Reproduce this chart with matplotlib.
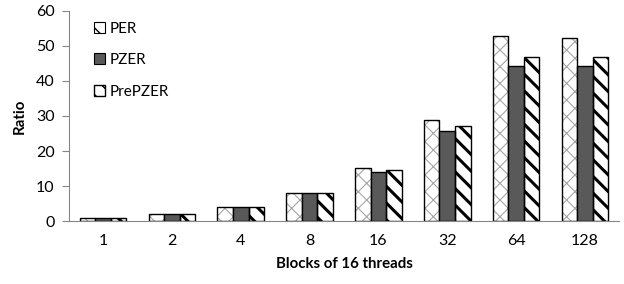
import matplotlib
matplotlib.use("Agg")
import matplotlib.pyplot as plt
import numpy as np
from matplotlib.patches import Patch

categories = ["1", "2", "4", "8", "16", "32", "64", "128"]
per = [1.0, 2.0, 4.0, 7.9, 15.2, 29.0, 52.9, 52.3]
pzer = [1.0, 2.0, 4.0, 7.9, 13.9, 25.8, 44.4, 44.4]
prepzer = [1.0, 2.0, 4.0, 7.9, 14.7, 27.1, 46.9, 46.8]
yticks = [0, 10, 20, 30, 40, 50, 60]

plt.rcParams['font.family'] = ['Lato', 'DejaVu Sans']

fig = plt.figure(figsize=(6.24, 2.84), dpi=100)
ax = fig.add_axes([0.110, 0.2218, 0.8826, 0.7395])

x = np.arange(len(categories))
w = 0.226

def hbar(xs, vals, hatch, hcolor, hlw, face):
    with plt.rc_context({'hatch.linewidth': hlw, 'hatch.color': hcolor}):
        bars = ax.bar(xs, vals, w, color=face, edgecolor=hcolor, hatch=hatch, linewidth=0, zorder=2)
        for b in bars:
            if hasattr(b, 'set_hatch_linewidth'):
                b.set_hatch_linewidth(hlw)
    ax.bar(xs, vals, w, facecolor='none', edgecolor='black', linewidth=1.0, zorder=3)

hbar(x - w, per, 'xx', '#a6a6a6', 0.8, 'white')
ax.bar(x, pzer, w, color='#595959', edgecolor='black', linewidth=1.0, zorder=3)
hbar(x + w, prepzer, '\\\\', 'black', 2.2, 'white')

ax.set_xlim(-0.5, len(categories) - 0.5)
ax.set_ylim(0, 60)
ax.set_yticks(yticks)
ax.set_xticks(x)
ax.set_xticklabels(categories)
ax.tick_params(axis='x', length=0, labelsize=11.5, pad=9, colors='black')
ax.tick_params(axis='y', length=5, width=0.8, color='#868686', labelsize=11.5, pad=5)
for s in ['top', 'right']:
    ax.spines[s].set_visible(False)
for s in ['left', 'bottom']:
    ax.spines[s].set_color('#868686')
    ax.spines[s].set_linewidth(0.8)

ax.set_ylabel('Ratio', fontweight='bold', fontsize=10.8, labelpad=7)
ax.set_xlabel('Blocks of 16 threads', fontweight='bold', fontsize=10.8, labelpad=7)

with plt.rc_context({'hatch.linewidth': 0.8, 'hatch.color': '#808080'}):
    h1 = Patch(facecolor='white', edgecolor='black', hatch='\\', linewidth=0.8)
h2 = Patch(facecolor='#595959', edgecolor='black', linewidth=0.8)
with plt.rc_context({'hatch.linewidth': 2.0}):
    h3 = Patch(facecolor='white', edgecolor='black', hatch='\\\\', linewidth=1.0)
leg = ax.legend([h1, h2, h3], ['PER', 'PZER', 'PrePZER'], loc='upper left',
                bbox_to_anchor=(0.024, 1.008), frameon=False, fontsize=11,
                handlelength=0.7, handleheight=0.7, handletextpad=0.3, labelspacing=1.15,
                borderpad=0.3)

fig.savefig('out.png', dpi=100)
